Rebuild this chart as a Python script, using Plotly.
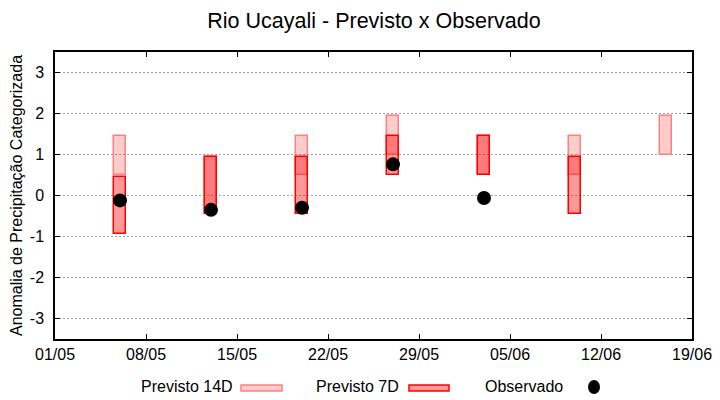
import plotly.graph_objects as go

# ---- data ----
dates = ['2023-05-06', '2023-05-13', '2023-05-20', '2023-05-27',
         '2023-06-03', '2023-06-10', '2023-06-17']
p14_low = [0.5, -0.45, 0.5, 1.0, 0.5, 0.5, 1.0]
p14_high = [1.45, 0.95, 1.45, 1.95, 1.45, 1.45, 1.95]
p7_dates = ['2023-05-06', '2023-05-13', '2023-05-20', '2023-05-27',
            '2023-06-03', '2023-06-10']
p7_low = [-0.95, -0.45, -0.45, 0.5, 0.5, -0.45]
p7_high = [0.45, 0.95, 0.95, 1.45, 1.45, 0.95]
obs_dates = ['2023-05-06', '2023-05-13', '2023-05-20', '2023-05-27', '2023-06-03']
obs_vals = [-0.12, -0.35, -0.30, 0.76, -0.06]
x_ticks = ['2023-05-01', '2023-05-08', '2023-05-15', '2023-05-22',
           '2023-05-29', '2023-06-05', '2023-06-12', '2023-06-19']
x_ticklabels = ['01/05', '08/05', '15/05', '22/05', '29/05', '05/06', '12/06', '19/06']
y_ticks = [-3, -2, -1, 0, 1, 2, 3]
y_ticklabels = ['-3', '-2', '-1', '0', '1', '2', '3']

FONT = "Liberation Sans"
C14_FILL = "rgba(255,0,0,0.2)"
C14_LINE = "rgb(255,128,128)"
C7_FILL = "rgba(255,0,0,0.4)"
C7_LINE = "rgb(255,0,0)"
BAR_W = 0.9 * 86400000

fig = go.Figure()
fig.add_trace(go.Bar(
    x=dates, y=[h - l for h, l in zip(p14_high, p14_low)], base=p14_low,
    width=BAR_W, marker=dict(color=C14_FILL, line=dict(color=C14_LINE, width=1.5)),
    name="Previsto 14D", showlegend=False))
fig.add_trace(go.Bar(
    x=p7_dates, y=[h - l for h, l in zip(p7_high, p7_low)], base=p7_low,
    width=BAR_W, marker=dict(color=C7_FILL, line=dict(color=C7_LINE, width=1.5)),
    name="Previsto 7D", showlegend=False))
fig.add_trace(go.Scatter(
    x=obs_dates, y=obs_vals, mode="markers",
    marker=dict(color="black", size=14, symbol="circle"),
    name="Observado", showlegend=False))

# page offset of the plotly div (default body margin)
OFF = 8
FIG_W, FIG_H = 720 - OFF, 400 - OFF
# plot area in page pixels: x 55..692, y 52..339
L, R, T, B = 55, 692, 52, 339
W, H = R - L, B - T


def px(xp):
    return (xp - L) / W


def py(yp):
    return (B - yp) / H


legend_y = 386
annots = []
shapes = []
for text, xr in [("Previsto 14D", 235), ("Previsto 7D", 401), ("Observado", 565)]:
    annots.append(dict(text=text, x=px(xr), y=py(legend_y), xref="paper", yref="paper",
                       xanchor="right", yanchor="middle", showarrow=False,
                       font=dict(family=FONT, size=16, color="black")))
shapes.append(dict(type="rect", xref="paper", yref="paper",
                   x0=px(241), x1=px(282), y0=py(391), y1=py(385),
                   fillcolor="rgb(255,204,204)", line=dict(color=C14_LINE, width=1.5)))
shapes.append(dict(type="rect", xref="paper", yref="paper",
                   x0=px(409), x1=px(449), y0=py(391), y1=py(385),
                   fillcolor="rgb(255,153,153)", line=dict(color=C7_LINE, width=1.5)))
shapes.append(dict(type="circle", xref="paper", yref="paper",
                   xsizemode="pixel", ysizemode="pixel",
                   xanchor=px(594), yanchor=py(387),
                   x0=-6, x1=6, y0=-7, y1=7,
                   fillcolor="black", line=dict(color="black", width=0)))

fig.update_layout(
    width=FIG_W, height=FIG_H,
    margin=dict(l=L - OFF, r=720 - R, t=T - OFF, b=400 - B, autoexpand=False),
    paper_bgcolor="white", plot_bgcolor="white",
    barmode="overlay", bargap=0,
    title=dict(text="Rio Ucayali - Previsto x Observado", x=(374 - OFF) / FIG_W,
               xanchor="center",
               y=1 - (20 - OFF) / FIG_H, yanchor="middle", automargin=False,
               font=dict(family=FONT, size=21.5, color="black")),
    font=dict(family=FONT, size=16, color="black"),
    annotations=annots, shapes=shapes,
    xaxis=dict(type="date", range=[x_ticks[0], x_ticks[-1]], automargin=False,
               tickmode="array", tickvals=x_ticks, ticktext=x_ticklabels,
               ticks="inside", ticklen=5, tickcolor="black", tickwidth=1,
               showline=True, linecolor="black", linewidth=1.5, mirror="ticks",
               showgrid=False, zeroline=False,
               tickfont=dict(family=FONT, size=16, color="black")),
    yaxis=dict(range=[-3.5, 3.5], tickmode="array", tickvals=y_ticks,
               ticktext=y_ticklabels, automargin=False,
               ticks="inside", ticklen=5, tickcolor="black", tickwidth=1,
               showline=True, linecolor="black", linewidth=1.5, mirror="ticks",
               showgrid=True, gridcolor="#a0a0a0", gridwidth=1, griddash="2px,2px",
               zeroline=False, ticklabelstandoff=6,
               title=dict(text="Anomalia de Precipitação Categorizada", standoff=4,
                          font=dict(family=FONT, size=16, color="black")),
               tickfont=dict(family=FONT, size=16, color="black")),
)

fig.write_html("out.html")
